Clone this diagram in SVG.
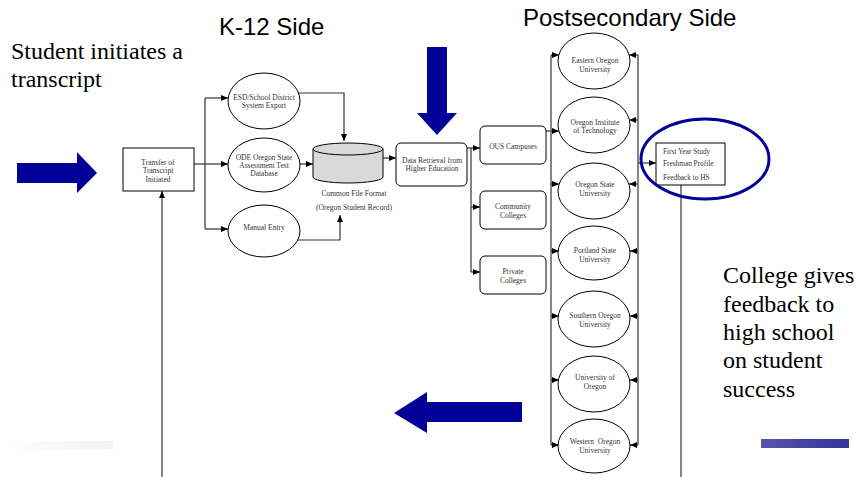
<svg xmlns="http://www.w3.org/2000/svg" width="857" height="477" viewBox="0 0 857 477">
<style>
.big{font-family:"Liberation Serif","Times New Roman",serif;font-size:24px;fill:#000}
.head{font-family:"Liberation Sans",Arial,sans-serif;font-size:24px;fill:#000}
.sm{font-family:"Liberation Serif","Times New Roman",serif;font-size:7.5px;fill:#333;text-anchor:middle;white-space:pre}
.lt{font-family:"Liberation Serif","Times New Roman",serif;font-size:7.3px;fill:#333}
.shape{fill:#fff;stroke:#000;stroke-width:1}
.ln{fill:none;stroke:#333;stroke-width:1.2}
.gl{fill:none;stroke:#666;stroke-width:1.6}
.blue{fill:#000099}
</style>
<defs>
<marker id="ah" markerUnits="userSpaceOnUse" markerWidth="7" markerHeight="6" refX="7" refY="3" orient="auto">
<path d="M0,0 L7,3 L0,6 z" fill="#000"/>
</marker>
<linearGradient id="gb" x1="0" x2="1" y1="0" y2="0">
<stop offset="0" stop-color="#5656aa"/><stop offset="1" stop-color="#333399"/>
</linearGradient>
<linearGradient id="gf" x1="0" x2="1" y1="0" y2="0">
<stop offset="0" stop-color="#fdfdfd"/><stop offset="1" stop-color="#f3f3f6"/>
</linearGradient>
</defs>

<!-- Titles and captions -->
<text class="head" x="219" y="35">K-12 Side</text>
<text class="head" x="523" y="26">Postsecondary Side</text>
<text class="big" x="11" y="59">Student initiates a</text>
<text class="big" x="11" y="87">transcript</text>
<g class="big">
<text x="723" y="283">College gives</text>
<text x="723" y="312">feedback to</text>
<text x="723" y="340">high school</text>
<text x="723" y="368">on student</text>
<text x="723" y="397">success</text>
</g>

<!-- decorative bars and big arrows -->
<rect x="15" y="441" width="98" height="8" fill="url(#gf)"/>
<rect x="761" y="439" width="88" height="9" fill="url(#gb)"/>
<polygon class="blue" points="17,163 77,163 77,152 97,173 77,193 77,183 17,183"/>
<polygon class="blue" points="427,47 447,47 447,113 457,113 437,135 417,113 427,113"/>
<polygon class="blue" points="522,402 427,402 427,392 394,413 427,433 427,422 522,422"/>

<!-- connectors -->
<g id="connectors">
<line class="ln" x1="162" y1="477" x2="162" y2="191" marker-end="url(#ah)"/>
<polyline class="ln" points="194,164 205,164"/>
<line class="ln" x1="205" y1="98" x2="205" y2="229"/>
<line class="ln" x1="205" y1="98" x2="228" y2="98" marker-end="url(#ah)"/>
<line class="ln" x1="205" y1="164" x2="228" y2="164" marker-end="url(#ah)"/>
<line class="ln" x1="205" y1="229" x2="228" y2="229" marker-end="url(#ah)"/>
<polyline class="ln" points="298,93 344,93 344,141" marker-end="url(#ah)"/>
<line class="ln" x1="298" y1="164" x2="313" y2="164" marker-end="url(#ah)"/>
<polyline class="ln" points="298,240 340,240 340,215" marker-end="url(#ah)"/>
<line class="ln" x1="383" y1="158" x2="396" y2="158" marker-end="url(#ah)"/>
<polyline class="ln" points="467,148 471,148"/>
<line class="ln" x1="471" y1="148" x2="471" y2="272"/>
<line class="ln" x1="471" y1="148" x2="480" y2="148" marker-end="url(#ah)"/>
<line class="ln" x1="471" y1="207" x2="480" y2="207" marker-end="url(#ah)"/>
<line class="ln" x1="471" y1="272" x2="480" y2="272" marker-end="url(#ah)"/>
<line class="ln" x1="546" y1="131" x2="559" y2="131" marker-end="url(#ah)"/>
<line class="gl" x1="551" y1="55" x2="551" y2="445"/>
<line class="gl" x1="638" y1="55" x2="638" y2="445"/>
<g class="ln">
<line x1="551" y1="55" x2="559" y2="55" marker-end="url(#ah)"/>
<line x1="551" y1="184" x2="559" y2="184" marker-end="url(#ah)"/>
<line x1="551" y1="251" x2="559" y2="251" marker-end="url(#ah)"/>
<line x1="551" y1="316" x2="559" y2="316" marker-end="url(#ah)"/>
<line x1="551" y1="380" x2="559" y2="380" marker-end="url(#ah)"/>
<line x1="551" y1="445" x2="559" y2="445" marker-end="url(#ah)"/>
<line x1="638" y1="55" x2="629" y2="55" marker-end="url(#ah)"/>
<line x1="638" y1="120" x2="629" y2="120" marker-end="url(#ah)"/>
<line x1="638" y1="184" x2="629" y2="184" marker-end="url(#ah)"/>
<line x1="638" y1="251" x2="630" y2="251" marker-end="url(#ah)"/>
<line x1="638" y1="316" x2="630" y2="316" marker-end="url(#ah)"/>
<line x1="638" y1="380" x2="630" y2="380" marker-end="url(#ah)"/>
<line x1="638" y1="445" x2="630" y2="445" marker-end="url(#ah)"/>
<line x1="638" y1="163" x2="656" y2="163" marker-end="url(#ah)"/>
</g>
<line class="gl" x1="681" y1="185" x2="681" y2="477"/>
</g>

<!-- nodes -->
<g id="transfer">
<rect class="shape" x="123" y="148" width="71" height="43"/>
<text class="sm" x="158" y="164.5">Transfer of</text>
<text class="sm" x="158" y="173">Transcript</text>
<text class="sm" x="158" y="181.5">Initiated</text>
</g>
<g id="esd">
<ellipse class="shape" cx="264" cy="101" rx="36" ry="28"/>
<text class="sm" x="264" y="99.5">ESD/School District</text>
<text class="sm" x="264" y="107.5">System Export</text>
</g>
<g id="ode">
<ellipse class="shape" cx="264" cy="165" rx="36" ry="27"/>
<text class="sm" x="264" y="159.5">ODE Oregon State</text>
<text class="sm" x="264" y="167.5">Assessment Test</text>
<text class="sm" x="264" y="175.5">Database</text>
</g>
<g id="manual">
<ellipse class="shape" cx="264" cy="231" rx="36" ry="26"/>
<text class="sm" x="264" y="229.5">Manual Entry</text>
</g>
<g id="common">
<path d="M313,149 L313,177 A35,6 0 0 0 383,177 L383,149 Z" fill="#d9d9d9" stroke="#000" stroke-width="1"/>
<ellipse cx="348" cy="149" rx="35" ry="6" fill="#d9d9d9" stroke="#000" stroke-width="1"/>
<text class="sm" x="354" y="195.5">Common File Format</text>
<text class="sm" x="354" y="209.5">(Oregon Student Record)</text>
</g>
<g id="retrieval">
<rect class="shape" x="396" y="143" width="71" height="43" rx="5"/>
<text class="sm" x="432" y="162.5">Data Retrieval from</text>
<text class="sm" x="432" y="170.5">Higher Education</text>
</g>
<g id="ous">
<rect class="shape" x="480" y="126" width="66" height="38" rx="5"/>
<text class="sm" x="513" y="148.5">OUS Campuses</text>
</g>
<g id="community">
<rect class="shape" x="480" y="191" width="66" height="38" rx="5"/>
<text class="sm" x="513" y="208.5">Community</text>
<text class="sm" x="513" y="217.5">Colleges</text>
</g>
<g id="private">
<rect class="shape" x="480" y="256" width="66" height="38" rx="5"/>
<text class="sm" x="513" y="273.5">Private</text>
<text class="sm" x="513" y="282.5">Colleges</text>
</g>
<g id="eastern">
<ellipse class="shape" cx="594" cy="61" rx="36" ry="28"/>
<text class="sm" x="595" y="62.5">Eastern Oregon</text>
<text class="sm" x="595" y="71.5">University</text>
</g>
<g id="oit">
<ellipse class="shape" cx="594" cy="125" rx="36" ry="28"/>
<text class="sm" x="595" y="124.5">Oregon Institute</text>
<text class="sm" x="595" y="132.5">of Technology</text>
</g>
<g id="osu">
<ellipse class="shape" cx="594" cy="191" rx="36" ry="28"/>
<text class="sm" x="595" y="186.5">Oregon State</text>
<text class="sm" x="595" y="195.5">University</text>
</g>
<g id="psu">
<ellipse class="shape" cx="594" cy="253" rx="36" ry="27"/>
<text class="sm" x="595" y="252.5">Portland State</text>
<text class="sm" x="595" y="261.5">University</text>
</g>
<g id="sou">
<ellipse class="shape" cx="594" cy="319" rx="36" ry="28"/>
<text class="sm" x="595" y="317.5">Southern Oregon</text>
<text class="sm" x="595" y="326.5">University</text>
</g>
<g id="uo">
<ellipse class="shape" cx="594" cy="384" rx="36" ry="28"/>
<text class="sm" x="595" y="379.5">University of</text>
<text class="sm" x="595" y="388.5">Oregon</text>
</g>
<g id="wou">
<ellipse class="shape" cx="594" cy="446" rx="36" ry="27"/>
<text class="sm" x="595" y="443.5">Western  Oregon</text>
<text class="sm" x="595" y="452.5">University</text>
</g>
<g id="feedback">
<rect class="shape" x="656" y="143" width="69" height="42"/>
<text class="lt" x="663" y="153.5">First Year Study</text>
<text class="lt" x="663" y="165.5">Freshman Profile</text>
<text class="lt" x="663" y="179.5">Feedback to HS</text>
<ellipse cx="705" cy="159" rx="64" ry="40" fill="none" stroke="#000099" stroke-width="3"/>
</g>
</svg>
